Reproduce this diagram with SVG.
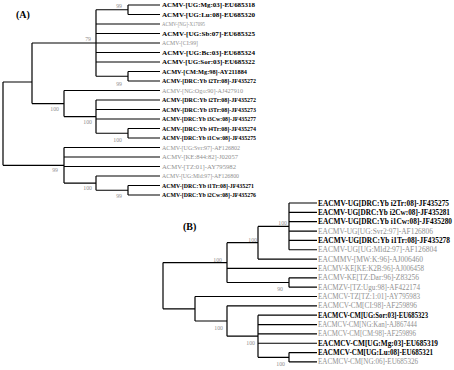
<svg xmlns="http://www.w3.org/2000/svg" width="454" height="370" viewBox="0 0 454 370">
<style>
.ln{fill:none;stroke:#000;stroke-width:1.2}
.a{font-family:"Liberation Serif",serif;font-size:6.3px}
.b{font-family:"Liberation Serif",serif;font-size:7.2px}
.k{fill:#000;font-weight:bold}
.g{fill:#909090}
.bs{font-family:"Liberation Serif",serif;font-size:5.8px;fill:#909090;text-anchor:end}
.pl{font-family:"Liberation Serif",serif;font-size:10px;font-weight:bold;fill:#000}
</style>
<rect width="454" height="370" fill="#fff"/>
<text class="pl" x="16" y="18">(A)</text>
<text class="pl" x="183" y="230">(B)</text>
<g id="connectors">
<path class="ln" d="M3,82V165.3M3,82H32M3,165.3H64
M32,43V103.6M32,43H96M32,103.6H64
M96,9.75V76.25M96,9.75H128M96,24H160M96,33.5H160M96,43H160M96,52.5H160M96,62H160M96,76.25H128
M128,5V14.5M128,5H160M128,14.5H160
M128,71.5V81M128,71.5H160M128,81H160
M64,90.5V116.6M64,90.5H160M64,116.6H96
M96,100V133.25M96,100H160M96,109.5H160M96,119H160M96,133.25H128
M128,128.5V138M128,128.5H160M128,138H160
M64,147.5V183.1M64,147.5H160M64,157H160M64,166.5H160M64,183.1H96
M96,176V190.25M96,176H160M96,190.25H128
M128,185.5V195M128,185.5H160M128,195H160"/>
<path class="ln" d="M163,262.6V308.8M163,262.6H227M163,308.8H195
M227,242.7V282.5M227,242.7H258M227,268.45H317M227,282.5H289
M258,226.4V259.1M258,226.4H289M258,259.1H317
M289,203V249.75M289,203H317M289,212.35H317M289,221.7H317M289,231.05H317M289,240.4H317M289,249.75H317
M289,277.8V287.15M289,277.8H317M289,287.15H317
M195,296.5V321M195,296.5H317M195,321H227
M227,305.85V336.2M227,305.85H317M227,336.2H258
M258,315.2V357.3M258,315.2H317M258,324.55H317M258,333.9H317M258,343.25H317M258,357.3H289
M289,352.6V361.95M289,352.6H317M289,361.95H317"/>
<text class="bs" x="122" y="8">99</text>
<text class="bs" x="91" y="41">79</text>
<text class="bs" x="122" y="86">99</text>
<text class="bs" x="59" y="111">100</text>
<text class="bs" x="92" y="124">100</text>
<text class="bs" x="122" y="142">100</text>
<text class="bs" x="58" y="172">99</text>
<text class="bs" x="92" y="190">100</text>
<text class="bs" x="122" y="198">99</text>
<text class="bs" x="287" y="225">100</text>
<text class="bs" x="257" y="242">100</text>
<text class="bs" x="222" y="262">100</text>
<text class="bs" x="283" y="291">90</text>
<text class="bs" x="223" y="330">100</text>
<text class="bs" x="255" y="345">100</text>
<text class="bs" x="285" y="366">100</text>
</g>
<g id="A01"><text class="a k" x="162" y="7.2" textLength="93" lengthAdjust="spacingAndGlyphs">ACMV-[UG:Mg:03]-EU685318</text></g>
<g id="A02"><text class="a k" x="162" y="16.7" textLength="93" lengthAdjust="spacingAndGlyphs">ACMV-[UG:Lu:08]-EU685320</text></g>
<g id="A03"><text class="a g" x="162" y="26.2" textLength="43" lengthAdjust="spacingAndGlyphs">ACMV-[NG]-X17095</text></g>
<g id="A04"><text class="a k" x="162" y="35.7" textLength="93" lengthAdjust="spacingAndGlyphs">ACMV-[UG:Sb:07]-EU685325</text></g>
<g id="A05"><text class="a g" x="162" y="45.2" textLength="36" lengthAdjust="spacingAndGlyphs">ACMV-[CI:99]</text></g>
<g id="A06"><text class="a k" x="162" y="54.7" textLength="93" lengthAdjust="spacingAndGlyphs">ACMV-[UG:Bc:03]-EU685324</text></g>
<g id="A07"><text class="a k" x="162" y="64.2" textLength="93" lengthAdjust="spacingAndGlyphs">ACMV-[UG:Sor:03]-EU685322</text></g>
<g id="A08"><text class="a k" x="162" y="73.7" textLength="85" lengthAdjust="spacingAndGlyphs">ACMV-[CM:Mg:98]-AY211884</text></g>
<g id="A09"><text class="a k" x="162" y="83.2" textLength="94" lengthAdjust="spacingAndGlyphs">ACMV-[DRC:Yb i2Tr:08]-JF435272</text></g>
<g id="A10"><text class="a g" x="162" y="92.7" textLength="81" lengthAdjust="spacingAndGlyphs">ACMV-[NG:Ogo:90]-AJ427910</text></g>
<g id="A11"><text class="a k" x="162" y="102.2" textLength="94" lengthAdjust="spacingAndGlyphs">ACMV-[DRC:Yb i2Tr:08]-JF435272</text></g>
<g id="A12"><text class="a k" x="162" y="111.7" textLength="94" lengthAdjust="spacingAndGlyphs">ACMV-[DRC:Yb i3Tr:08]-JF435273</text></g>
<g id="A13"><text class="a k" x="162" y="121.2" textLength="94" lengthAdjust="spacingAndGlyphs">ACMV-[DRC:Yb i3Cw:08]-JF435277</text></g>
<g id="A14"><text class="a k" x="162" y="130.7" textLength="94" lengthAdjust="spacingAndGlyphs">ACMV-[DRC:Yb i4Tr:08]-JF435274</text></g>
<g id="A15"><text class="a k" x="162" y="140.2" textLength="94" lengthAdjust="spacingAndGlyphs">ACMV-[DRC:Yb i1Cw:08]-JF435275</text></g>
<g id="A16"><text class="a g" x="162" y="149.7" textLength="78" lengthAdjust="spacingAndGlyphs">ACMV-[UG:Svr:97]-AF126802</text></g>
<g id="A17"><text class="a g" x="162" y="159.2" textLength="76" lengthAdjust="spacingAndGlyphs">ACMV-[KE:844:82]-J02057</text></g>
<g id="A18"><text class="a g" x="162" y="168.7" textLength="74" lengthAdjust="spacingAndGlyphs">ACMV-[TZ:01]-AY795982</text></g>
<g id="A19"><text class="a g" x="162" y="178.2" textLength="77" lengthAdjust="spacingAndGlyphs">ACMV-[UG:Mld:97]-AF126800</text></g>
<g id="A20"><text class="a k" x="162" y="187.7" textLength="92" lengthAdjust="spacingAndGlyphs">ACMV-[DRC:Yb i1Tr:08]-JF435271</text></g>
<g id="A21"><text class="a k" x="162" y="197.2" textLength="94" lengthAdjust="spacingAndGlyphs">ACMV-[DRC:Yb i2Cw:08]-JF435276</text></g>
<g id="B01"><text class="b k" x="318" y="205.5" textLength="131" lengthAdjust="spacingAndGlyphs">EACMV-UG[DRC:Yb i2Tr:08]-JF435275</text></g>
<g id="B02"><text class="b k" x="318" y="214.85" textLength="132" lengthAdjust="spacingAndGlyphs">EACMV-UG[DRC:Yb i2Cw:08]-JF435281</text></g>
<g id="B03"><text class="b k" x="318" y="224.2" textLength="134" lengthAdjust="spacingAndGlyphs">EACMV-UG[DRC:Yb i1Cw:08]-JF435280</text></g>
<g id="B04"><text class="b g" x="318" y="233.55" textLength="115" lengthAdjust="spacingAndGlyphs">EACMV-UG[UG:Svr2:97]-AF126806</text></g>
<g id="B05"><text class="b k" x="318" y="242.9" textLength="132" lengthAdjust="spacingAndGlyphs">EACMV-UG[DRC:Yb i1Tr:08]-JF435278</text></g>
<g id="B06"><text class="b g" x="318" y="252.25" textLength="119" lengthAdjust="spacingAndGlyphs">EACMV-UG[UG:Mld2:97]-AF126804</text></g>
<g id="B07"><text class="b g" x="318" y="261.6" textLength="105" lengthAdjust="spacingAndGlyphs">EACMMV-[MW:K:96]-AJ006460</text></g>
<g id="B08"><text class="b g" x="318" y="270.95" textLength="106" lengthAdjust="spacingAndGlyphs">EACMV-KE[KE:K2B:96]-AJ006458</text></g>
<g id="B09"><text class="b g" x="318" y="280.3" textLength="101" lengthAdjust="spacingAndGlyphs">EACMV-KE[TZ:Dar:96]-Z83256</text></g>
<g id="B10"><text class="b g" x="318" y="289.65" textLength="102" lengthAdjust="spacingAndGlyphs">EACMZV-[TZ:Ugu:98]-AF422174</text></g>
<g id="B11"><text class="b g" x="318" y="299" textLength="102" lengthAdjust="spacingAndGlyphs">EACMCV-TZ[TZ:1:01]-AY795983</text></g>
<g id="B12"><text class="b g" x="318" y="308.35" textLength="99" lengthAdjust="spacingAndGlyphs">EACMCV-CM[CI:98]-AF259896</text></g>
<g id="B13"><text class="b k" x="318" y="317.7" textLength="110" lengthAdjust="spacingAndGlyphs">EACMCV-CM[UG:Sor:03]-EU685323</text></g>
<g id="B14"><text class="b g" x="318" y="327.05" textLength="99" lengthAdjust="spacingAndGlyphs">EACMCV-CM[NG:Kan]-AJ867444</text></g>
<g id="B15"><text class="b g" x="318" y="336.4" textLength="98" lengthAdjust="spacingAndGlyphs">EACMCV-CM[CM:98]-AF259896</text></g>
<g id="B16"><text class="b k" x="318" y="345.75" textLength="120" lengthAdjust="spacingAndGlyphs">EACMCV-CM[UG:Mg:03]-EU685319</text></g>
<g id="B17"><text class="b k" x="318" y="355.1" textLength="115" lengthAdjust="spacingAndGlyphs">EACMCV-CM[UG:Lu:08]-EU685321</text></g>
<g id="B18"><text class="b g" x="318" y="364.45" textLength="100" lengthAdjust="spacingAndGlyphs">EACMCV-CM[NG:06]-EU685326</text></g>
</svg>
